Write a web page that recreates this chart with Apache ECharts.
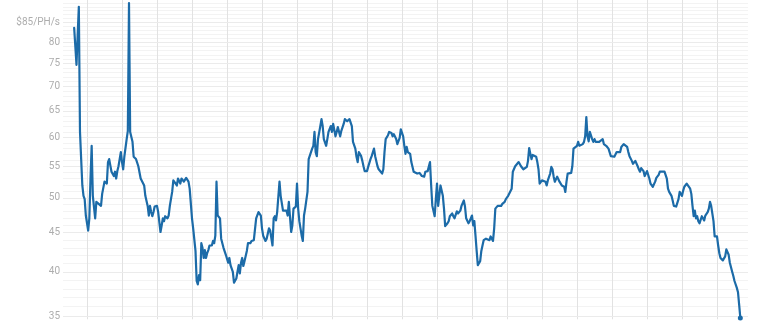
<!DOCTYPE html>
<html>
<head>
<meta charset="utf-8">
<script src="https://cdn.jsdelivr.net/npm/echarts@6/dist/echarts.min.js"></script>
<style>
html,body{margin:0;padding:0;background:#fff;}
#chart{width:768px;height:321px;}
</style>
</head>
<body>
<div id="chart"></div>
<script>
// day offsets (relative to first monthly gridline) and hashprice in $/PH/s
const days = [-11,-10,-9,-8,-7,-6,-5,-4,-3,-2,-1,1,2,3,4,5,7,8,9,10,12,13,15,16,17,18,19,21,22,23,24,25,26,27,29,30,31,32,34,35,36,37,39,40,42,44,46,49,50,52,53,54,55,56,57,58,60,61,63,64,65,66,67,69,70,71,73,74,75,77,78,80,81,83,85,86,87,88,90,91,93,94,95,96,97,98,99,100,101,102,103,104,105,107,108,109,110,111,112,113,114,115,117,119,120,121,122,123,125,126,127,128,129,130,131,132,133,134,135,137,138,140,141,143,144,145,147,149,150,151,153,154,156,157,159,160,161,162,163,165,166,168,169,171,172,173,175,176,177,179,180,181,182,183,184,185,186,187,189,190,192,193,194,195,196,197,198,200,201,202,203,205,206,207,209,210,211,213,214,215,217,218,220,221,223,224,225,227,228,230,231,232,233,235,236,237,238,240,241,243,244,246,247,249,250,251,253,254,255,256,258,259,261,262,263,265,266,268,269,271,272,273,274,275,277,278,280,281,283,284,285,287,289,290,291,292,294,295,296,298,299,300,301,303,304,305,306,307,309,310,311,313,314,315,317,318,320,321,323,324,325,327,328,330,331,332,333,334,335,337,338,339,340,342,343,345,346,348,349,350,352,353,355,356,358,359,361,362,364,365,367,368,370,371,372,373,374,375,377,378,379,380,381,382,383,385,386,387,388,389,390,391,393,394,395,397,398,399,400,401,402,403,405,406,407,409,410,411,412,413,415,416,417,418,420,421,422,423,425,426,427,428,429,430,431,433,434,435,436,437,439,440,442,443,445,446,447,449,450,452,454,455,457,458,460,461,463,464,465,467,468,470,471,472,473,474,475,477,478,479,480,481,482,483,485,486,487,488,490,491,493,494,495,497,498,499,501,502,503,504,505,507,508,510,511,512,513,514,515,517,518,519,520,521,522,523,524,525,526,527,529,530,531,532,533,534,535,537,538,539,540,541,542,543,545,546,547,548,549,550,551,553,554,555,557,558,559,560];
const prices = [83.5,83.8,74.7,81.8,89.0,61.0,56.2,51.9,50.3,49.8,47.4,45.3,47.0,53.0,58.5,50.3,47.0,49.4,49.6,49.1,48.8,50.6,52.5,52.7,52.2,55.7,56.2,54.1,53.8,53.4,54.1,53.0,54.2,55.0,57.4,55.7,54.5,56.6,59.7,61.2,90.0,61.0,59.2,56.6,56.2,55.0,53.0,51.9,50.3,48.8,47.4,48.8,47.9,47.3,47.9,48.7,48.8,47.9,45.1,46.0,47.0,46.6,47.3,47.0,47.4,48.8,50.9,52.7,52.5,51.9,53.0,52.2,53.0,52.5,53.1,53.1,52.5,51.4,47.0,45.6,42.6,38.9,38.5,39.6,39.0,43.6,43.0,41.7,42.7,41.7,42.3,42.7,43.3,43.3,43.9,43.6,44.6,52.5,47.4,47.3,47.0,44.2,43.0,42.1,42.1,41.1,41.7,40.8,40.0,38.7,38.5,39.2,40.0,40.8,39.8,41.1,41.7,40.7,41.3,42.6,43.6,43.6,43.9,44.0,44.2,47.0,47.9,47.4,45.6,44.6,43.9,44.2,45.6,45.3,43.3,47.0,47.3,46.7,47.9,52.5,50.3,48.1,47.9,48.1,47.4,49.4,45.1,46.0,48.4,48.7,52.2,48.4,46.6,45.6,44.6,43.9,47.4,48.4,50.9,56.2,57.4,58.0,58.5,61.0,57.4,56.7,59.7,62.1,63.4,62.1,59.7,58.5,59.7,61.0,62.1,61.0,62.5,60.2,61.0,61.9,60.2,61.2,62.5,63.4,63.0,62.8,63.4,62.1,59.2,58.0,56.6,55.7,57.4,56.7,55.9,55.0,54.2,54.2,54.9,56.2,56.7,58.0,56.7,55.0,54.5,54.5,53.8,54.5,57.4,59.7,60.4,61.0,60.8,60.2,60.6,59.7,58.8,59.9,61.5,60.2,58.5,57.1,58.3,57.4,57.1,55.7,54.1,53.9,53.8,54.1,53.9,53.4,53.3,54.1,54.4,54.2,55.7,51.9,48.8,47.3,49.8,52.2,48.8,51.9,51.7,50.3,48.4,45.9,46.3,46.6,47.3,47.7,47.3,47.0,48.0,47.7,48.1,48.8,49.6,48.7,47.0,46.3,46.6,47.4,46.0,46.6,44.6,42.6,40.8,41.3,42.6,43.3,44.0,44.2,44.2,44.0,44.5,43.9,45.6,48.4,48.8,48.7,48.8,49.1,49.4,49.8,50.3,50.6,51.4,54.1,55.0,55.3,55.7,55.7,55.0,55.3,54.5,54.2,54.9,55.9,58.1,57.1,56.2,56.9,56.7,56.6,55.7,54.5,52.2,52.0,52.7,53.0,52.5,51.9,52.7,53.8,54.9,54.5,53.3,52.5,52.7,53.3,52.5,52.5,51.9,51.7,50.9,52.5,53.8,54.1,53.9,55.0,58.0,58.3,58.5,59.2,58.5,58.5,58.8,59.2,60.2,63.8,60.2,59.3,61.0,59.7,59.2,59.7,59.2,59.3,59.2,59.3,59.7,58.8,58.5,58.5,58.0,56.7,56.4,56.6,57.4,57.6,57.4,58.3,58.8,58.9,58.3,57.4,56.7,55.9,55.4,55.9,56.2,55.0,54.5,54.1,54.7,54.2,53.4,53.8,54.2,54.4,53.0,52.2,51.7,52.0,52.5,53.1,53.6,54.1,54.1,53.9,54.1,53.0,51.4,50.9,50.3,49.6,48.8,48.7,48.7,49.8,50.9,50.3,51.1,51.7,51.9,52.2,51.9,51.4,50.6,48.8,47.3,48.1,47.0,47.3,46.6,46.3,46.3,47.3,46.7,47.4,47.3,47.9,48.4,49.4,48.8,46.6,44.5,44.6,44.5,43.3,42.3,41.7,41.4,41.3,41.9,42.8,42.6,42.1,41.1,40.0,39.5,38.9,38.1,37.6,36.2,34.8];
const majorTicks = [35,40,45,50,55,60,65,70,75,80,85];
const unitLabel = '$85/PH/s';

const ln = Math.log;
const minorTicks = [];
for (let v = 34; v <= 91; v++) minorTicks.push(ln(v));
const monthLines = [];
for (let d = 0; d <= 540; d += 30) monthLines.push(d);

const seriesData = days.map((d, i) => {
  const item = { value: [d, ln(prices[i])] };
  if (i === days.length - 1) { item.symbol = 'circle'; item.symbolSize = 5; }
  return item;
});

const yMin = 3.54544, yMax = 4.50912;

const chart = echarts.init(document.getElementById('chart'), null, { renderer: 'canvas' });
chart.setOption({
  animation: false,
  backgroundColor: '#ffffff',
  grid: { left: 63, right: 20, top: 0, bottom: 0, containLabel: false },
  xAxis: {
    type: 'value',
    min: -20.571, max: 566.571,
    axisLine: { show: false },
    axisLabel: { show: false },
    axisTick: { show: false, customValues: monthLines },
    splitLine: { show: true, lineStyle: { color: '#e2e2e2', width: 1 } }
  },
  yAxis: [
    {
      type: 'value',
      min: yMin, max: yMax,
      axisLine: { show: false },
      axisTick: { show: false, customValues: majorTicks.map(v => ln(v)) },
      axisLabel: {
        customValues: majorTicks.map(v => ln(v)),
        margin: 3,
        color: '#adadad',
        fontSize: 10,
        fontFamily: 'Roboto, "Open Sans", sans-serif',
        formatter: v => {
          const n = Math.round(Math.exp(v));
          return n === 85 ? unitLabel : String(n);
        }
      },
      splitLine: { show: true, lineStyle: { color: '#ebebeb', width: 1 } },
      z: 1
    },
    {
      type: 'value',
      min: yMin, max: yMax,
      position: 'left',
      axisLine: { show: false },
      axisLabel: { show: false },
      axisTick: { show: false, customValues: minorTicks },
      splitLine: { show: true, lineStyle: { color: '#f3f3f3', width: 1 } },
      z: 0
    }
  ],
  series: [{
    type: 'line',
    data: seriesData,
    showSymbol: true,
    symbol: 'none',
    symbolSize: 0,
    itemStyle: { color: '#1c6ba8' },
    lineStyle: { color: '#1c6ba8', width: 2.2, join: 'round', cap: 'round' },
    clip: true,
    z: 5
  }]
});
</script>
</body>
</html>
